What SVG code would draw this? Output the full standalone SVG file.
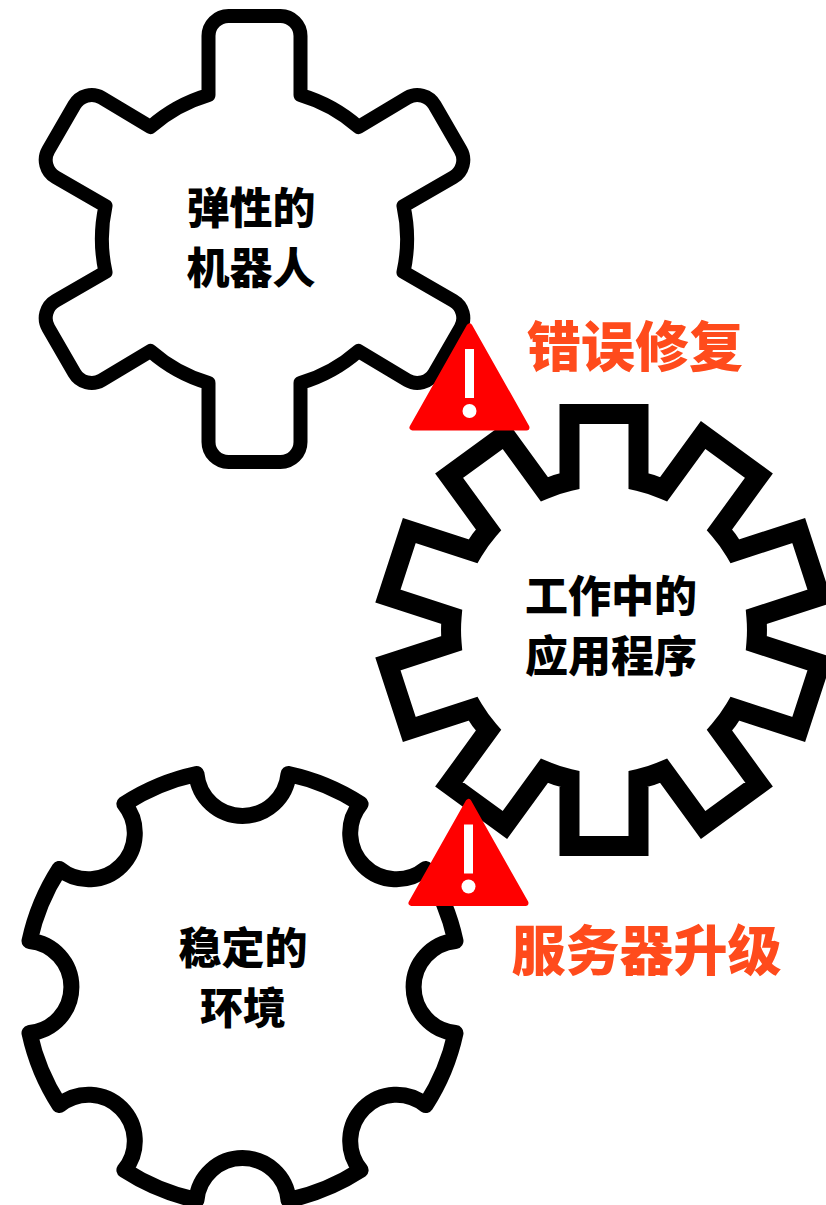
<svg xmlns="http://www.w3.org/2000/svg" width="826" height="1205" viewBox="0 0 826 1205">
<style>
.gear{fill:#fff;stroke:#000}
.g1{stroke-width:14;stroke-linejoin:round}
.g2{stroke-width:20;stroke-linejoin:miter;stroke-miterlimit:8}
.g3{stroke-width:16;stroke-linejoin:round}
text{font-family:"Noto Sans CJK SC","Noto Sans",sans-serif;font-weight:900;text-anchor:middle}
.lb{font-size:43px;fill:#000}
.wn{font-size:54px;fill:#ff4b1c}
</style>
<defs>
<g id="warn">
<path d="M469.5 326.5L412.5 427.5H526.5Z" fill="#f00" stroke="#f00" stroke-width="6" stroke-linejoin="round"/>
<rect x="465" y="349" width="9" height="49" fill="#fff"/>
<circle cx="469.5" cy="411" r="7" fill="#fff"/>
</g>
</defs>
<rect width="826" height="1205" fill="#fff"/>
<g id="gear-resilient">
<path class="gear g1" transform="translate(254.5 239)" d="M-46-144L-46-203A20 20 0 0 1-26-223L26-223A20 20 0 0 1 46-203L46-144A153 153 0 0 1 104-112L152.8-141.3A20 20 0 0 1 180.1-134L206.1-89A20 20 0 0 1 198.8-61.7L149-33A153 153 0 0 1 149 33L198.8 61.7A20 20 0 0 1 206.1 89L180.1 134A20 20 0 0 1 152.8 141.3L104 112A153 153 0 0 1 46 144L46 203A20 20 0 0 1 26 223L-26 223A20 20 0 0 1-46 203L-46 144A153 153 0 0 1-104 112L-152.8 141.3A20 20 0 0 1-180.1 134L-206.1 89A20 20 0 0 1-198.8 61.7L-149 33A153 153 0 0 1-149-33L-198.8-61.7A20 20 0 0 1-206.1-89L-180.1-134A20 20 0 0 1-152.8-141.3L-104-112A153 153 0 0 1-46-144Z"/>
<text class="lb" x="251" y="224">弹性的</text>
<text class="lb" x="251" y="284">机器人</text>
</g>
<g id="gear-app">
<path class="gear g2" transform="translate(604 630)" d="M-34.5-149L-34.5-216L34.5-216L34.5-149A153 153 0 0 1 59.7-140.8L99.1-195L154.9-154.4L115.5-100.2A153 153 0 0 1 131-78.8L194.7-99.5L216.1-33.9L152.4-13.2A153 153 0 0 1 152.4 13.2L216.1 33.9L194.7 99.5L131 78.8A153 153 0 0 1 115.5 100.2L154.9 154.4L99.1 195L59.7 140.8A153 153 0 0 1 34.5 149L34.5 216L-34.5 216L-34.5 149A153 153 0 0 1-59.7 140.8L-99.1 195L-154.9 154.4L-115.5 100.2A153 153 0 0 1-131 78.8L-194.7 99.5L-216.1 33.9L-152.4 13.2A153 153 0 0 1-152.4-13.2L-216.1-33.9L-194.7-99.5L-131-78.8A153 153 0 0 1-115.5-100.2L-154.9-154.4L-99.1-195L-59.7-140.8A153 153 0 0 1-34.5-149Z"/>
<text class="lb" x="611" y="612">工作中的</text>
<text class="lb" x="611" y="672">应用程序</text>
</g>
<g id="gear-stable">
<path class="gear g3" transform="translate(242.5 987)" d="M-46-213A46.2 46.2 0 0 0 46-213A218 218 0 0 1 118.1-183.1A46.2 46.2 0 0 0 183.1-118.1A218 218 0 0 1 213-46A46.2 46.2 0 0 0 213 46A218 218 0 0 1 183.1 118.1A46.2 46.2 0 0 0 118.1 183.1A218 218 0 0 1 46 213A46.2 46.2 0 0 0-46 213A218 218 0 0 1-118.1 183.1A46.2 46.2 0 0 0-183.1 118.1A218 218 0 0 1-213 46A46.2 46.2 0 0 0-213-46A218 218 0 0 1-183.1-118.1A46.2 46.2 0 0 0-118.1-183.1A218 218 0 0 1-46-213Z"/>
<text class="lb" x="243" y="964">稳定的</text>
<text class="lb" x="243" y="1024">环境</text>
</g>
<g id="warning-bugfix">
<use href="#warn"/>
<text class="wn" x="635" y="367">错误修复</text>
</g>
<g id="warning-upgrade">
<use href="#warn" transform="translate(-1 475.5)"/>
<text class="wn" x="646.5" y="971">服务器升级</text>
</g>
</svg>
